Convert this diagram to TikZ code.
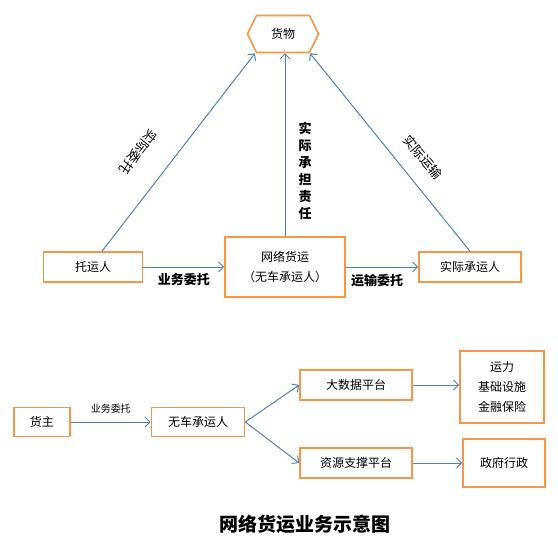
\documentclass[tikz,border=0pt]{standalone}
\usepackage{fontspec}
\setmainfont{Noto Sans CJK SC}
\usepackage{tikz}
\usetikzlibrary{shapes.geometric, shapes.symbols, arrows.meta, positioning}
\usepackage{xcolor}

\definecolor{boxorange}{RGB}{247,150,70}
\definecolor{lineblue}{RGB}{79,129,189}

\begin{document}
\begin{tikzpicture}[x=1pt, y=-1pt, node distance=190pt]

	% --- STYLES ---
	\tikzstyle{party} = [rectangle, draw=boxorange, line width=1.6pt, fill=white, minimum height=30pt, align=center, font=\fontsize{12}{20}\selectfont]
	\tikzstyle{goods} = [signal, signal to=east and west, signal pointer angle=128, draw=boxorange, line width=1.6pt, fill=white, minimum width=71pt, minimum height=37pt, font=\fontsize{12}{15}\selectfont]
	\tikzstyle{arrow} = [draw=lineblue, line width=1pt, -{Straight Barb[length=5pt, width=10pt]}]
	\tikzstyle{duty} = [font=\bfseries\fontsize{13}{15}\selectfont, inner sep=2pt]
	\tikzstyle{side} = [font=\fontsize{13}{15}\selectfont, inner sep=0pt]

	\useasboundingbox (0,0) rectangle (558,551);

	% --- TOP: TRIANGLE ---

	% 1. Goods
	\node (goods) [goods] at (283,34) {货物};

	% 2. Platform in the middle
	\node (platform) [party, minimum width=120pt, minimum height=60pt] at (285,267) {网络货运\\（无车承运人）};

	% 3. Shipper and carrier
	\node (shipper) [party, minimum width=99pt, left of=platform, xshift=-2pt] {托运人};
	\node (carrier) [party, minimum width=102pt, right of=platform, xshift=-5pt] {实际承运人};

	% --- ARROWS ---
	\draw [arrow] (shipper) -- node[duty, anchor=north, yshift=-4pt] {业务委托} (platform);
	\draw [arrow] (platform) -- node[duty, anchor=north, yshift=-5pt, xshift=-5pt] {运输委托} (carrier);

	\draw [arrow] ([xshift=9pt]shipper.north) -- ([xshift=-28pt]goods.south);
	\draw [arrow] (platform.north) -- (platform.north |- goods.south);
	\draw [arrow] (carrier.north) -- ([xshift=27pt]goods.south);

	% side labels
	\node (entrust) [side, rotate=232] at (138,152) {实际委托};
	\node (transport) [side, rotate=-50] at (423,157) {实际运输};
	\node (liable) [duty, align=center, font=\bfseries\fontsize{13}{17}\selectfont] at (305,171) {实\\际\\承\\担\\责\\任};

	% --- BOTTOM: PLATFORMS ---
	\node (owner) [party, minimum width=56pt, minimum height=29pt] at (42,422) {货主};
	\node (nvocc) [party, minimum width=93pt, minimum height=29pt] at (198,422) {无车承运人};

	\node (bigdata) [party, minimum width=112pt] at (356,385) {大数据平台};
	\node (resource) [party, minimum width=112pt, below of=bigdata, yshift=112pt] {资源支撑平台};

	\node (services) [party, minimum width=84pt, minimum height=72pt] at (502,387) {运力\\基础设施\\金融保险};
	\node (govern) [party, minimum width=82pt, minimum height=48pt] at (504,463) {政府行政};

	\draw [arrow] (owner) -- node[anchor=south, yshift=5pt, font=\fontsize{10}{12}\selectfont] {业务委托} (nvocc);
	\draw [arrow] (nvocc.east) -- (bigdata.west);
	\draw [arrow] (nvocc.east) -- (resource.west);
	\draw [arrow] (bigdata.east) -- (bigdata.east -| services.west);
	\draw [arrow] (resource.east) -- (resource.east -| govern.west);

	% title
	\node (title) [font=\bfseries\fontsize{19}{22}\selectfont] at (305,524) {网络货运业务示意图};

\end{tikzpicture}
\end{document}
